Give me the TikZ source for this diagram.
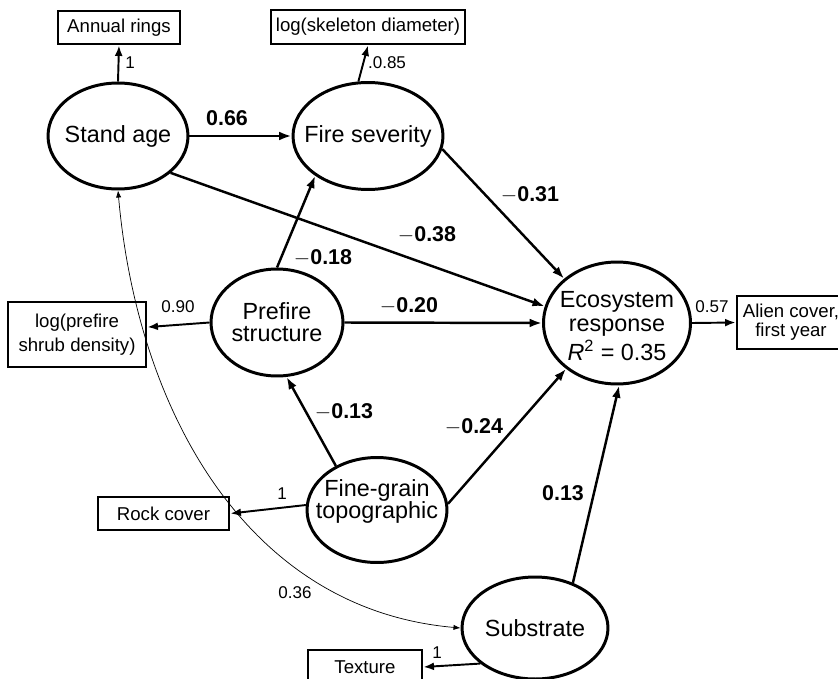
\documentclass[tikz,border=0pt]{standalone}
\usepackage{fontspec}
\setmainfont{Liberation Sans}
\usetikzlibrary{shapes.geometric,arrows.meta}

\newcommand{\latfont}{\fontsize{13.3}{12.5}\selectfont}
\newcommand{\obsfont}{\fontsize{10.6}{12}\selectfont}
\newcommand{\coeffont}{\fontsize{12.2}{14}\selectfont\bfseries}
\newcommand{\loadfont}{\fontsize{9.7}{11}\selectfont}

\tikzset{
latent/.style={ellipse, draw, line width=1.7pt, inner sep=0pt},
observed/.style={rectangle, draw, line width=1.6pt, inner sep=0pt, font=\obsfont, align=center},
every label/.style={font=\latfont, align=center, inner sep=0pt},
coefarrow/.style={line width=1.4pt, -{Latex[length=7pt,width=5pt]}},
loadarrow/.style={line width=1.1pt, -{Latex[length=6pt,width=4.5pt]}},
corrarrow/.style={line width=0.4pt, {Latex[length=4pt,width=3pt]}-{Latex[length=4pt,width=3pt]}},
coef/.style={font=\coeffont, inner sep=0pt},
load/.style={font=\loadfont, inner sep=0pt}
}

\begin{document}
\begin{tikzpicture}[x=0.02cm, y=-0.02cm]
\useasboundingbox (0,0) rectangle (838,679);
\node[latent, minimum width=2.8cm, minimum height=2.12cm, label={center:Stand age}] (age) at (118,136) {};
\node[latent, minimum width=3cm, minimum height=2.14cm, label={center:Fire severity}] (fire) at (368,136) {};
\node[latent, minimum width=2.64cm, minimum height=2.14cm, label={center:Prefire\\structure}] (pre) at (277,322.5) {};
\node[latent, minimum width=2.94cm, minimum height=2.44cm,
  label={[yshift=-0.06cm]center:Ecosystem\\[1pt]response\\[1pt]\textit{R}\textsuperscript{2} = 0.35}] (eco) at (617,323) {};
\node[latent, minimum width=2.8cm, minimum height=2.1cm, label={[yshift=0.18cm]center:Fine-grain\\topographic}] (fine) at (377,510) {};
\node[latent, minimum width=2.92cm, minimum height=2.04cm, label={center:Substrate}] (sub) at (535,628) {};

\node[observed, minimum width=2.44cm, minimum height=0.66cm] (rings) at (119,27.5) {Annual rings};
\node[observed, minimum width=3.88cm, minimum height=0.68cm] (skel) at (368,27) {log(skeleton diameter)};
\node[observed, minimum width=2.76cm, minimum height=1.3cm] (shrub) at (77,334.5) {log(prefire\\[2pt]shrub density)};
\node[observed, minimum width=2.16cm, minimum height=1.06cm] (alien) at (791,322.5) {Alien cover,\\[-1pt]first year};
\node[observed, minimum width=2.62cm, minimum height=0.66cm] (rock) at (163.5,513.5) {Rock cover};
\node[observed, minimum width=2.28cm, minimum height=0.68cm] (texture) at (365,667) {Texture};

\draw[loadarrow] (age.north) -- (rings.south);
\draw[loadarrow] (fire.100) -- (skel.south);
\draw[coefarrow] (age.east) -- (fire.west);
\draw[coefarrow] (age.-35) -- (eco.167);
\draw[coefarrow] (fire.-10) -- (eco.140);
\draw[coefarrow] (pre.north) -- (fire.-143);
\draw[loadarrow] (pre.west) -- (shrub.6);
\draw[coefarrow] (pre.east) -- (eco.west);
\draw[coefarrow] (fine.133) -- (pre.-80);
\draw[coefarrow] (fine.5) -- (eco.-138);
\draw[loadarrow] (fine.176) -- (rock.east);
\draw[coefarrow] (sub.50) -- (eco.-88);
\draw[loadarrow] (sub.-147) -- (texture.east);
\draw[loadarrow] (eco.east) -- (alien.west);
\draw[corrarrow] (age.south) to [out=-85, in=175] (sub.west);

\node[load] (l-rings) at (130,63) {1};
\node[load] (l-skel) at (387,63) {.0.85};
\node[coef] (c-age-fire) at (227,118) {0.66};
\node[coef] (c-fire-eco) at (530,195) {$-$0.31};
\node[coef] (c-age-eco) at (427,235) {$-$0.38};
\node[coef] (c-pre-fire) at (323,258) {$-$0.18};
\node[coef] (c-pre-eco) at (409,306) {$-$0.20};
\node[load] (l-shrub) at (178,307) {0.90};
\node[load] (l-alien) at (712,307) {0.57};
\node[coef] (c-fine-pre) at (344,412) {$-$0.13};
\node[coef] (c-fine-eco) at (474,427) {$-$0.24};
\node[coef] (c-sub-eco) at (563,493) {0.13};
\node[load] (l-rock) at (282,494) {1};
\node[load] (l-corr) at (295,593) {0.36};
\node[load] (l-texture) at (437,653) {1};
\end{tikzpicture}
\end{document}
